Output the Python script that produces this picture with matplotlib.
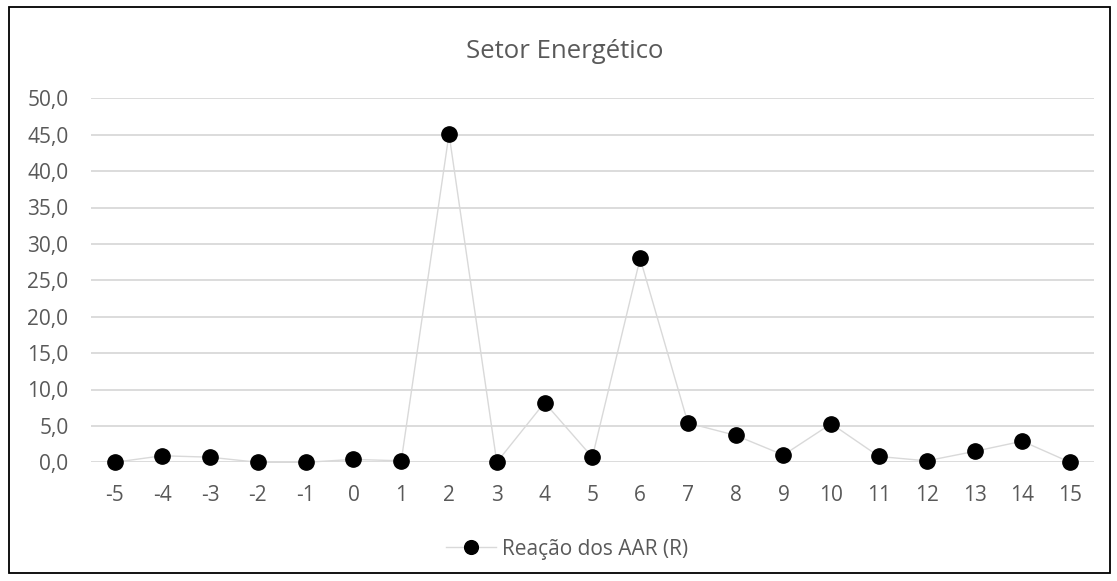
import matplotlib
matplotlib.use('Agg')
import matplotlib.pyplot as plt
from matplotlib.patches import Rectangle

# ------------------- DATA ----------------
days = [-5, -4, -3, -2, -1, 0, 1, 2, 3, 4, 5, 6, 7, 8, 9, 10, 11, 12, 13, 14, 15]
reacao = [0.0, 0.9, 0.7, 0.0, 0.0, 0.4, 0.2, 45.1, 0.0, 8.2, 0.7, 28.0,
          5.4, 3.7, 1.0, 5.3, 0.8, 0.2, 1.5, 2.9, 0.0]
yticks = [0, 5, 10, 15, 20, 25, 30, 35, 40, 45, 50]

TXT = '#595959'
GRID = '#D9D9D9'
plt.rcParams['font.family'] = ['Open Sans', 'DejaVu Sans']

fig = plt.figure(figsize=(11.17, 5.81), dpi=100)
W, H = 1117, 581
ax = fig.add_axes([90.7 / W, 1 - 462.3 / H, (1094 - 90.7) / W, (462.3 - 98.3) / H])

pos = list(range(len(days)))
ax.plot(pos, reacao, color=GRID, lw=1, marker='o', ms=11,
        mfc='black', mec='black', clip_on=False, zorder=3,
        label='Reação dos AAR (R)')

ax.set_xlim(-0.5, len(days) - 0.5)
ax.set_ylim(0, 50)
ax.set_yticks(yticks)
ax.set_yticklabels([('%.1f' % v).replace('.', ',') for v in yticks])
ax.set_xticks(pos)
ax.set_xticklabels([str(d) for d in days])
ax.tick_params(axis='both', length=0, colors=TXT, labelsize=15)
ax.tick_params(axis='y', pad=16)
ax.tick_params(axis='x', pad=16)
ax.grid(axis='y', color=GRID, lw=1.3)
ax.set_axisbelow(True)
for s in ax.spines.values():
    s.set_visible(False)

fig.text(565 / W, 1 - 51 / H, 'Setor Energético', ha='center', va='center',
         color=TXT, fontsize=18.5)

leg = fig.legend(loc='center', bbox_to_anchor=(567 / W, 1 - 549 / H),
                 frameon=False, fontsize=15, handlelength=2.4,
                 handletextpad=0.3, markerscale=0.9)
for t in leg.get_texts():
    t.set_color(TXT)

fig.patches.append(Rectangle((8.5 / W, 8.5 / H), (1110 - 8.5) / W, (574 - 8.5) / H,
                             transform=fig.transFigure, fill=False,
                             edgecolor='black', lw=1.3))

fig.savefig('out.png', dpi=100, facecolor='white')
